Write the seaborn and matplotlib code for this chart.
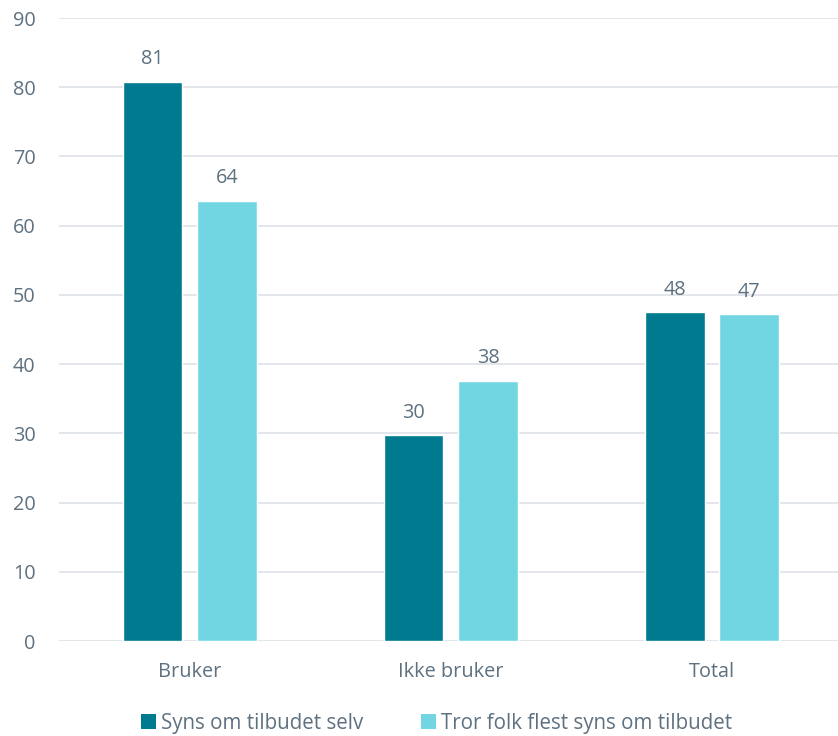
import matplotlib
matplotlib.use("Agg")
import matplotlib.pyplot as plt
import seaborn as sns
import pandas as pd
from matplotlib.patches import Patch

categories = ["Bruker", "Ikke bruker", "Total"]
series_names = ["Syns om tilbudet selv", "Tror folk flest syns om tilbudet"]
values_selv = [80.8, 29.7, 47.5]
values_folk = [63.6, 37.6, 47.2]
labels_selv = ["81", "30", "48"]
labels_folk = ["64", "38", "47"]
yticks = [0, 10, 20, 30, 40, 50, 60, 70, 80, 90]

colors = ["#007A8F", "#72D6E2"]
text_color = "#5E7180"
grid_color = "#E1E5EA"
fs = 14.3

sns.set_theme(style="white")
plt.rcParams["font.family"] = ["Open Sans", "DejaVu Sans"]

df = pd.DataFrame({
    "cat": categories * 2,
    "serie": [series_names[0]] * 3 + [series_names[1]] * 3,
    "val": values_selv + values_folk,
})

fig = plt.figure(figsize=(8.38, 7.36), dpi=100)
ax = fig.add_axes([0.0705, 0.129, 0.935, 0.8465])

sns.barplot(data=df, x="cat", y="val", hue="serie", hue_order=series_names,
            palette=colors, width=0.57, gap=0.2, ax=ax, legend=False,
            saturation=1, errorbar=None)

for cont, labs in zip(ax.containers, [labels_selv, labels_folk]):
    ax.bar_label(cont, labels=labs, padding=9, fontsize=fs, color=text_color)

ax.set_ylim(0, 90)
ax.set_xlim(-0.5, 2.5)
ax.set_yticks(yticks)
ax.set_yticklabels([str(t) for t in yticks])
ax.yaxis.grid(True, color=grid_color, linewidth=1.3)
ax.set_axisbelow(True)
for s in ax.spines.values():
    s.set_visible(False)
ax.tick_params(axis="both", length=0, labelsize=fs, colors=text_color)
ax.tick_params(axis="y", pad=17)
ax.tick_params(axis="x", pad=15)
ax.set_xlabel("")
ax.set_ylabel("")

handles = [Patch(facecolor=c, edgecolor="none") for c in colors]
fig.legend(handles, series_names, loc="center", bbox_to_anchor=(0.521, 0.017),
           ncol=2, frameon=False, fontsize=14.8, labelcolor=text_color,
           handlelength=0.75, handleheight=0.75, handletextpad=0.25,
           columnspacing=2.8)

fig.savefig("out.png", dpi=100)
